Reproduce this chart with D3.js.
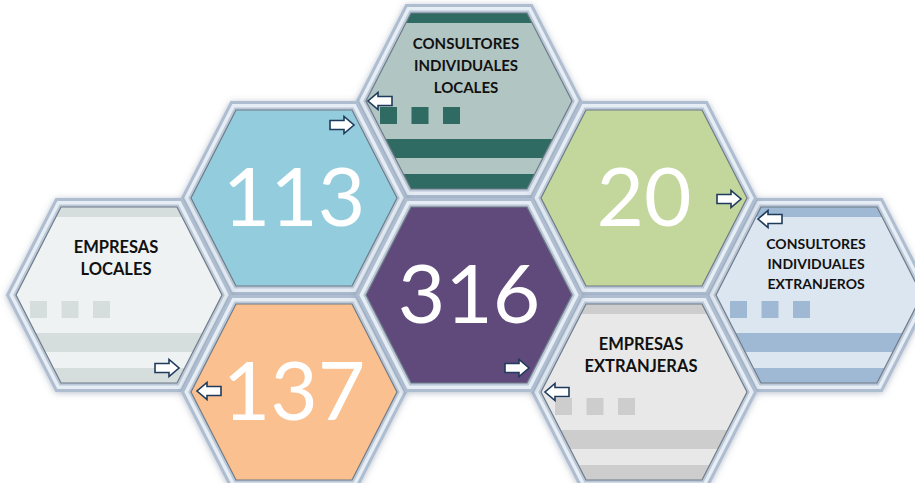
<!DOCTYPE html>
<html>
<head>
<meta charset="utf-8">
<script src="https://cdn.jsdelivr.net/npm/d3@7"></script>
<style>
  body { margin: 0; background: #fff; }
  svg { display: block; }
</style>
</head>
<body>
<svg id="chart" width="915" height="483"></svg>
<script>
// data
const categories = ["CONSULTORES INDIVIDUALES LOCALES", "EMPRESAS LOCALES", "CONSULTORES INDIVIDUALES EXTRANJEROS", "EMPRESAS EXTRANJERAS"];
const labelLines = [["CONSULTORES", "INDIVIDUALES", "LOCALES"], ["EMPRESAS", "LOCALES"], ["CONSULTORES", "INDIVIDUALES", "EXTRANJEROS"], ["EMPRESAS", "EXTRANJERAS"]];
const values = [113, 137, 20, 316];

// layout: honeycomb cells (column, row) for each label hex and value hex
const labelCells = [[0, -2], [-2, 0], [2, 0], [1, 1]];
const valueCells = [[-1, -1], [-1, 1], [1, -1], [0, 0]];

// styles
const valueColors = ["#93CDDD", "#FAC08F", "#C3D69B", "#604A7B"];
const labelFill = ["#B1C5C2", "#EFF2F2", "#DCE6F0", "#E8E8E8"];
const labelBand = ["#2F6B63", "#D6DDDD", "#9FB8D4", "#CDCDCD"];
const labelSize = [15, 16.5, 14, 16.5];

const svg = d3.select("#chart");

const x = d3.scaleLinear().domain([-2, 2]).range([119, 819]);
const y = d3.scaleLinear().domain([-2, 2]).range([101, 489]);

const W = 103, H = 88, T = 58;
const hex = d3.line()([[-T, -H], [T, -H], [W, 0], [T, H], [-T, H], [-W, 0]]) + "Z";

const defs = svg.append("defs");
const shadow = defs.append("filter").attr("id", "shadow")
    .attr("x", "-20%").attr("y", "-20%").attr("width", "140%").attr("height", "140%");
shadow.append("feDropShadow").attr("dx", 0).attr("dy", 1).attr("stdDeviation", 3)
    .attr("flood-color", "#6f819a").attr("flood-opacity", 0.5);

const cells = categories.map((c, i) => ({
    i, label: c, lines: labelLines[i], value: values[i],
    lc: labelCells[i], vc: valueCells[i]
}));
const allCells = [];
cells.forEach(d => {
    allCells.push({ kind: "label", i: d.i, col: d.lc[0], row: d.lc[1] });
    allCells.push({ kind: "value", i: d.i, col: d.vc[0], row: d.vc[1] });
});

// frames first, so the fills sit on top
const frames = svg.append("g").selectAll("g").data(allCells).enter().append("g")
    .attr("transform", d => `translate(${x(d.col)},${y(d.row)})`);
frames.append("path").attr("d", hex).attr("fill", "none")
    .attr("stroke", "#aebdd0").attr("stroke-width", 18).attr("stroke-linejoin", "miter")
    .attr("filter", "url(#shadow)");
frames.append("path").attr("d", hex).attr("fill", "none")
    .attr("stroke", "#e6edf4").attr("stroke-width", 12).attr("stroke-linejoin", "miter");
frames.append("path").attr("d", hex).attr("fill", "none")
    .attr("stroke", "#bac7d7").attr("stroke-width", 5).attr("stroke-linejoin", "miter");

// label hexagons
cells.forEach(d => {
    defs.append("clipPath").attr("id", "clip" + d.i).append("path").attr("d", hex);
});
const lab = svg.append("g").selectAll("g").data(cells).enter().append("g")
    .attr("transform", d => `translate(${x(d.lc[0])},${y(d.lc[1])})`);
lab.append("path").attr("d", hex).attr("fill", d => labelFill[d.i]);
const bands = lab.append("g").attr("clip-path", d => `url(#clip${d.i})`);
[[-H, 10], [38, 19], [73, 20]].forEach(([y0, h]) => {
    bands.append("rect").attr("x", -W).attr("y", y0).attr("width", 2 * W).attr("height", h)
        .attr("fill", d => labelBand[d.i]);
});
[0, 1, 2].forEach(k => {
    lab.append("rect").attr("x", -89 + k * 31.5).attr("y", 6).attr("width", 17).attr("height", 17)
        .attr("fill", d => labelBand[d.i]);
});
lab.append("path").attr("d", hex).attr("fill", "none").attr("stroke", "#6f7b88").attr("stroke-width", 1.2);
lab.each(function(d) {
    const n = d.lines.length;
    const step = d.i === 2 ? 20 : 22;
    const first = n === 3 ? (d.i === 2 ? -46 : -52) : -42;
    d3.select(this).selectAll("text.lbl").data(d.lines).enter().append("text")
        .attr("class", "lbl")
        .attr("x", -3)
        .attr("y", (t, j) => first + j * step)
        .attr("text-anchor", "middle")
        .attr("font-family", "Lato, 'Open Sans', sans-serif")
        .attr("font-weight", 700)
        .attr("font-size", labelSize[d.i])
        .attr("fill", "#111111")
        .text(t => t);
});

// value hexagons
const val = svg.append("g").selectAll("g").data(cells).enter().append("g")
    .attr("transform", d => `translate(${x(d.vc[0])},${y(d.vc[1])})`);
val.append("path").attr("d", hex).attr("fill", d => valueColors[d.i])
    .attr("stroke", "#6f7b88").attr("stroke-width", 1.2);
val.append("text")
    .attr("x", 0).attr("y", 28)
    .attr("text-anchor", "middle")
    .attr("font-family", "Lato, 'Open Sans', sans-serif")
    .attr("font-size", 82)
    .attr("fill", "#ffffff")
    .text(d => d.value);

// arrows linking each number to its category: [dx, dy, direction] for value side, then label side
const arrow = "M-12,-4.5L2,-4.5L2,-8.5L12,0L2,8.5L2,4.5L-12,4.5Z";
const arrowOffsets = [
    [[48, -73, 1], [-89, 0, -1]],
    [[-85, -1, -1], [48, 73, 1]],
    [[85, 1, 1], [-49, -76, -1]],
    [[48, 73, 1], [-87, 0, -1]]
];
const arrowData = [];
cells.forEach(d => {
    const p = arrowOffsets[d.i];
    arrowData.push({ c: d.vc, dx: p[0][0], dy: p[0][1], dir: p[0][2] });
    arrowData.push({ c: d.lc, dx: p[1][0], dy: p[1][1], dir: p[1][2] });
});
svg.append("g").selectAll("path").data(arrowData).enter().append("path")
    .attr("d", arrow)
    .attr("transform", d => `translate(${x(d.c[0]) + d.dx},${y(d.c[1]) + d.dy}) scale(${d.dir},1)`)
    .attr("fill", "#ffffff")
    .attr("stroke", "#1f3b5c")
    .attr("stroke-width", 1.6)
    .attr("stroke-linejoin", "miter");
</script>
</body>
</html>
